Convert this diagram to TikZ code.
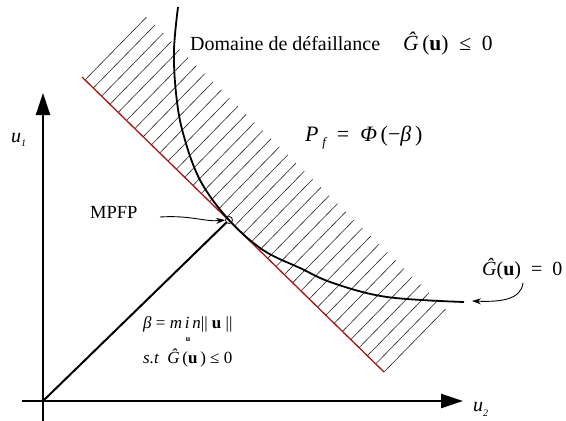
\documentclass[tikz,border=0pt]{standalone}
\usepackage{fontspec}
\setmainfont{Liberation Serif}
\usetikzlibrary{arrows.meta,calc}
\begin{document}
\begin{tikzpicture}[x=1pt,y=-1pt,
  lbl/.style={inner sep=0pt, anchor=base west, font=\fontsize{20}{24}\selectfont},
  small/.style={inner sep=0pt, anchor=base west, font=\fontsize{17}{20}\selectfont},
  hatch/.style={line width=0.6pt, black!85},
  redline/.style={line width=1.3pt, draw={rgb,255:red,170;green,20;blue,20}},
  curvestyle/.style={line width=1.8pt, black},
  axis/.style={line width=2.4pt, -{Triangle[length=22pt,width=14pt]}},
  betaline/.style={line width=2pt},
  pointer/.style={line width=0.9pt, -{Stealth[length=9pt,width=6pt]}}]
\useasboundingbox (0,0) rectangle (566,421);

% hatching
\coordinate (R1) at (82,77);
\coordinate (R2) at (384,372);
\foreach \i in {0,...,36}{
  \draw[hatch] ($(R1)!{0.01+\i*0.99/36}!(R2)$) -- ++(61.5,-62.9);
}
\draw[redline] (R1) -- (R2);

% limit state curve
\draw[curvestyle] plot[smooth, tension=0.6] coordinates {(178,7) (174,50) (176,93) (183,133) (200,180) (229,220) (263,250) (300,268) (333,283) (387,297) (464,302)};

% axes
\coordinate (O) at (43,401);
\coordinate (Ybot) at (43,421);
\coordinate (Ytop) at (43,93);
\coordinate (Xl) at (22,401);
\coordinate (Xr) at (463,401);
\draw[axis] (Ybot) -- (Ytop);
\draw[axis] (Xl) -- (Xr);

% MPFP point and beta line
\node[circle, draw, line width=0.8pt, minimum size=7pt, inner sep=0pt] (P) at (229,220) {};
\draw[betaline] (O) -- (P);

% labels
\node[small, font=\fontsize{20}{24}\selectfont\itshape] (u1) at (11,142) {u\raisebox{-4pt}{\fontsize{10}{12}\selectfont 1}};
\node[small, font=\fontsize{20}{24}\selectfont\itshape] (u2) at (473,411) {u\raisebox{-5pt}{\fontsize{10}{12}\selectfont 2}};

\node[lbl] (dom) at (190,50) {Domaine de défaillance};
\node[lbl, font=\fontsize{21.5}{25}\selectfont] (gle) at (403,50) {{\itshape Ĝ}\,(\textbf{u})\enspace≤\enspace0};
\node[lbl, font=\fontsize{22}{26}\selectfont] (pf) at (305,141) {{\itshape P}\,\raisebox{-5pt}{\fontsize{13}{15}\selectfont\itshape f}\enspace=\enspace{\itshape Φ}\,(−{\itshape β}\,)};
\node[lbl, font=\fontsize{18.5}{22}\selectfont] (mpfp) at (90,218) {MPFP};
\node[lbl] (geq) at (482,275) {{\itshape Ĝ}(\textbf{u})\enspace=\enspace0};

\node[small] (beta) at (143,328) {{\itshape β} = {\itshape m\,i\,n}|| \textbf{u} ||};
\node[inner sep=0pt, anchor=base, font=\fontsize{8}{9}\selectfont\bfseries] (sub) at (188,341) {u};
\node[small] (st) at (143,363) {{\itshape s.t}\enspace {\itshape Ĝ}\,(\textbf{u}\,) ≤ 0};

% pointers
\coordinate (a1) at (160,217);
\draw[pointer] (a1) .. controls (190,215) and (205,222) .. (P.west);
\coordinate (a2) at (523,283);
\coordinate (a3) at (472,301);
\draw[pointer] (a2) .. controls (521,300) and (500,302) .. (a3);
\end{tikzpicture}
\end{document}
